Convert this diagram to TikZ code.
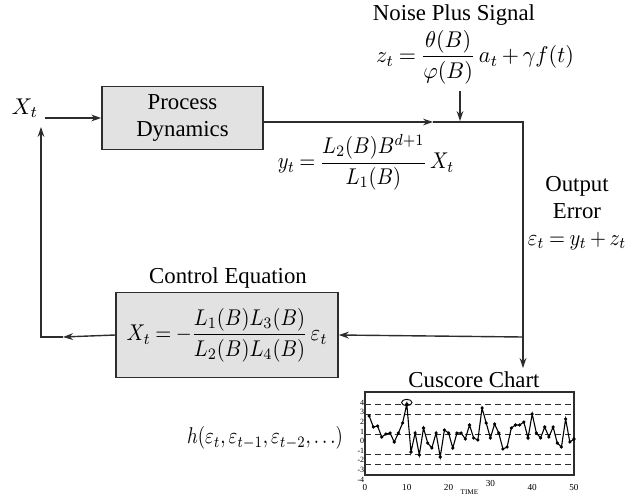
\RequirePackage{fix-cm}
\documentclass[tikz,border=0pt]{standalone}
\usepackage{amsmath}
\usepackage{graphicx}
\usepackage{fontspec}
\setmainfont{Liberation Serif}
\usetikzlibrary{arrows.meta,positioning}
\newcommand{\ccsq}[2]{\scalebox{#1}[1]{#2}}
\definecolor{ccink}{RGB}{45,45,45}
\definecolor{ccfill}{RGB}{226,226,226}
\tikzset{
  ccbox/.style={draw=ccink, line width=0.8pt, fill=ccfill, align=center, inner sep=2pt},
  ccarr/.style={-{Stealth[length=5pt,width=3.4pt]}, line width=0.7pt, draw=ccink},
  ccline/.style={line width=0.7pt, draw=ccink},
  ccgrid/.style={densely dashed, line width=0.45pt, draw=ccink},
  cctick/.style={font=\fontsize{4}{4.5}\selectfont, inner sep=0pt}
}

\begin{document}
\thickmuskip=4mu plus 2mu
\medmuskip=3mu plus 1mu
\begin{tikzpicture}[x=0.5pt, y=-0.5pt, font=\fontsize{11.4}{13.5}\selectfont]
  \useasboundingbox (0,0) rectangle (634,494);
  % loop blocks
  \node (xt) at (25,108) {$X_t$};
  \node[ccbox, minimum width=80.5pt, minimum height=31.5pt] (pd) at (182.5,118) {Process\\Dynamics};
  \node (noise) at (454,15) {Noise Plus Signal};
  \node (zt) at (475,57) {\ccsq{0.97}{$z_t=\dfrac{\theta(B)}{\varphi(B)}\,a_t+\gamma f(t)$}};
  \node (yt) at (366,162) {\ccsq{0.9}{$y_t=\dfrac{L_2(B)B^{d+1}}{L_1(B)}\,X_t$}};
  \node[align=center] (err) at (577,213) {Output\\Error\\\ccsq{0.9}{$\varepsilon_t=y_t+z_t$}};
  \node (ctl) at (228,278) {Control Equation};
  \node[ccbox, minimum width=111pt, minimum height=42.5pt] (ce) at (227,335) {\ccsq{0.9}{$X_t=-\dfrac{L_1(B)L_3(B)}{L_2(B)L_4(B)}\,\varepsilon_t$}};
  \node (chart) at (474,380) {Cuscore Chart};
  \node[anchor=east] (h) at (350,438) {\ccsq{0.82}{$h(\varepsilon_t,\varepsilon_{t-1},\varepsilon_{t-2},\ldots)$}};
  % connectors
  \coordinate (mid) at (433,122);
  \coordinate (join) at (523,122);
  \coordinate (split) at (523,337);
  \coordinate (tap) at (523,368);
  \coordinate (mid2) at (63,337);
  \coordinate (back) at (41,337);
  \coordinate (up) at (41,127);
  \coordinate (nz) at (460,121);
  \draw[ccarr] (xt.east |- pd.west) -- (pd.west);
  \draw[ccarr] (pd.east |- join) -- (mid);
  \draw[ccarr] (mid) -- (join) -- (tap);
  \draw[ccarr] (nz |- zt.south) -- (nz);
  \draw[ccarr] (split) -- (ce.east);
  \draw[ccarr] (ce.west) -- (mid2);
  \draw[ccarr] (mid2) -- (back) -- (up);
  % cuscore chart
  \begin{scope}[shift={(365,434)}, x=2.09pt, y=5pt]
    \draw[ccline, line width=0.6pt] (0,-4.1) rectangle (50,4.2);
    \foreach \v in {3,2,0,-2,-3}
      \draw[ccgrid] (0,\v) -- (50,\v);
    \draw[line width=0.55pt] plot[mark=*, mark size=0.5pt] coordinates {
      (1,1.8) (2,0.7) (3,0.8) (4,-0.3) (5,0) (6,0.1) (7,-0.8) (8,0.1) (9,1.1) (10,3.0)
      (11,-1.8) (12,0.1) (13,-2.1) (14,0.6) (15,-0.9) (16,-1.4) (17,0.1) (18,-2.3) (19,0.4) (20,0.1)
      (21,-1.4) (22,0.1) (23,0.1) (24,-0.5) (25,0.9) (26,-0.4) (27,-0.6) (28,2.6) (29,1.1) (30,-0.4)
      (31,1.0) (32,0.1) (33,-1.5) (34,-1.3) (35,0.6) (36,0.9) (37,0.9) (38,1.2) (39,-0.4) (40,2.0)
      (41,0.1) (42,-0.4) (43,0.7) (44,-0.3) (45,0.7) (46,-0.9) (47,-1.3) (48,1.5) (49,-0.8) (50,-0.5)};
    \draw[line width=0.45pt] (10,3.15) ellipse [x radius=2.6pt, y radius=1.6pt];
    \foreach \v in {4,3,...,-4}
      \node[cctick, anchor=east] (yl\v) at (-0.1,{0.96*\v-0.7}) {\v};
    \foreach \t in {0,10,20,40,50}
      \node[cctick, font=\fontsize{4.6}{5}\selectfont] (xl\t) at (\t,-5.3) {\t};
    \node[cctick, font=\fontsize{4.6}{5}\selectfont] (xl30) at (30,-4.9) {30};
    \node[cctick, font=\fontsize{3.6}{4}\selectfont] (time) at (25,-5.8) {TIME};
  \end{scope}
\end{tikzpicture}
\end{document}
